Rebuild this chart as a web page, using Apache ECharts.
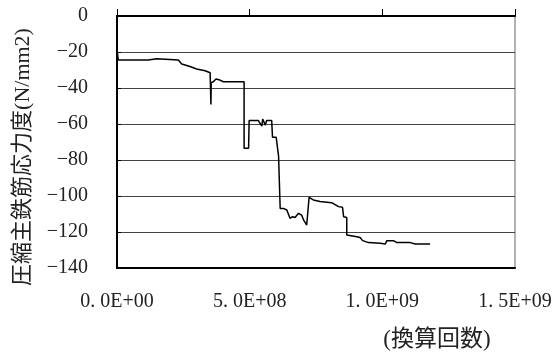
<!DOCTYPE html>
<html>
<head>
<meta charset="utf-8">
<script src="https://cdn.jsdelivr.net/npm/echarts@6/dist/echarts.min.js"></script>
<style>
  html, body { margin: 0; padding: 0; background: #fff; }
  #chart { width: 556px; height: 356px; }
</style>
</head>
<body>
<div id="chart"></div>
<script>
// Equivalent cycle count (in units of 1e8) and compressive rebar stress (N/mm2)
const cycles = [
  0.00, 0.03, 0.05, 1.18, 1.20, 1.50, 1.52, 2.31, 2.44, 2.75,
  3.00, 3.32, 3.51, 3.54, 3.54, 3.55, 3.63, 3.73, 3.88, 4.01,
  4.79, 4.79, 4.96, 4.98, 5.33, 5.39, 5.46, 5.49, 5.54, 5.59,
  5.64, 5.83, 5.86, 6.00, 6.04, 6.09, 6.15, 6.27, 6.40, 6.52,
  6.62, 6.71, 6.84, 6.96, 7.03, 7.15, 7.21, 7.24, 7.40, 7.65,
  8.09, 8.35, 8.50, 8.54, 8.66, 8.66, 9.04, 9.16, 9.26, 9.48,
  9.92, 10.11, 10.17, 10.42, 10.55, 11.05, 11.24, 11.80
];
const stress = [
  -19.0, -19.5, -24.4, -24.4, -23.7, -23.7, -24.4, -24.4, -26.7, -28.1,
  -29.4, -30.4, -31.5, -31.9, -49.1, -37.0, -36.5, -35.0, -35.6, -36.5,
  -36.5, -73.5, -73.5, -58.1, -58.1, -59.6, -61.1, -57.2, -58.1, -60.6,
  -58.1, -58.1, -67.4, -67.4, -68.5, -78.0, -106.9, -106.9, -107.8, -112.4,
  -111.5, -111.9, -109.6, -110.6, -113.3, -116.1, -117.0, -100.7, -102.2, -103.1,
  -103.7, -105.9, -106.3, -111.5, -111.9, -121.7, -122.6, -123.0, -124.8, -125.9,
  -126.3, -126.7, -124.8, -124.8, -125.9, -125.9, -126.7, -126.7
];
const xTicks = [0, 5e8, 1e9, 1.5e9];
const xTickLabels = ['0. 0E+00', '5. 0E+08', '1. 0E+09', '1. 5E+09'];
const yTickLabels = {
  '0': '0', '-20': '\u221220', '-40': '\u221240', '-60': '\u221260',
  '-80': '\u221280', '-100': '\u2212100', '-120': '\u2212120', '-140': '\u2212140'
};

const points = cycles.map((c, i) => [c * 1e8, stress[i]]);

const serif = '"Liberation Serif", "DejaVu Serif", serif';
const labelFont = { fontFamily: serif, fontSize: 20, color: '#222' };

const chart = echarts.init(document.getElementById('chart'), null, { renderer: 'canvas' });
chart.setOption({
  animation: false,
  backgroundColor: '#fff',
  grid: {
    left: 117, top: 16, width: 398, height: 252,
    containLabel: false, outerBoundsMode: 'none',
    show: true, borderColor: '#999', borderWidth: 1.5, backgroundColor: 'transparent'
  },
  xAxis: [
    {
      // upper axis line with outward ticks
      type: 'value', position: 'top', min: 0, max: 1.5e9, interval: 5e8,
      axisLine: { show: true, onZero: false, lineStyle: { color: '#000', width: 2 } },
      axisTick: { show: true, inside: false, length: 7, lineStyle: { color: '#000', width: 1 } },
      axisLabel: { show: false },
      splitLine: { show: false }
    },
    {
      // lower axis carrying the tick labels
      type: 'value', position: 'bottom', min: 0, max: 1.5e9, interval: 5e8,
      axisLine: { show: true, onZero: false, lineStyle: { color: '#000', width: 2 } },
      axisTick: { show: false },
      axisLabel: Object.assign({
        margin: 24,
        formatter: v => { const i = xTicks.indexOf(v); return i >= 0 ? xTickLabels[i] : ''; }
      }, labelFont),
      splitLine: { show: false }
    }
  ],
  yAxis: {
    type: 'value', min: -140, max: 0, interval: 20,
    axisLine: { show: true, lineStyle: { color: '#000', width: 2 } },
    axisTick: { show: true, inside: true, length: 4, lineStyle: { color: '#000' } },
    axisLabel: Object.assign({
      margin: 29,
      formatter: v => yTickLabels[String(v)] !== undefined ? yTickLabels[String(v)] : String(v)
    }, labelFont),
    splitLine: { show: true, lineStyle: { color: '#444', width: 1 } }
  },
  graphic: [
    {
      type: 'text', x: 23, y: 157, rotation: Math.PI / 2,
      style: {
        text: '圧縮主鉄筋応力度(N/mm2)',
        font: '22px "Liberation Serif", "Noto Sans CJK JP", serif',
        fill: '#222', align: 'center', verticalAlign: 'middle'
      }
    },
    {
      type: 'text', x: 437, y: 340,
      style: {
        text: '(換算回数)',
        font: '23px "Liberation Serif", "Noto Sans CJK JP", serif',
        fill: '#222', align: 'center', verticalAlign: 'middle'
      }
    }
  ],
  series: [{
    type: 'line',
    xAxisIndex: 1,
    data: points,
    showSymbol: false,
    symbol: 'none',
    lineStyle: { color: '#000', width: 1.5 },
    clip: true
  }]
});
</script>
</body>
</html>
